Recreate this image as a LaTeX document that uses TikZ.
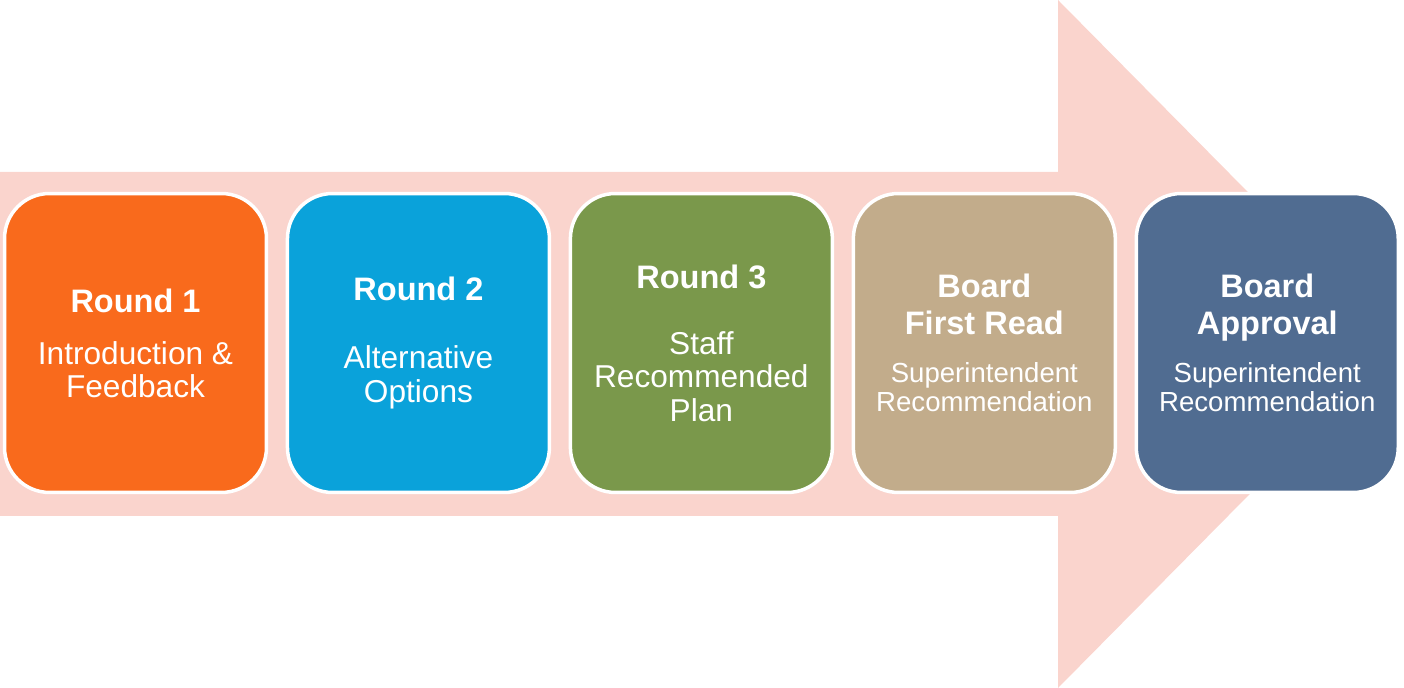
\documentclass[tikz,border=0pt]{standalone}
\usepackage{fontspec}
\setmainfont{Liberation Sans}
\usetikzlibrary{positioning}

\definecolor{arrowpink}{HTML}{FAD4CD}
\definecolor{roundorange}{HTML}{F96A1C}
\definecolor{roundblue}{HTML}{0AA2DA}
\definecolor{roundgreen}{HTML}{7A984B}
\definecolor{boardtan}{HTML}{C2AC8B}
\definecolor{boardslate}{HTML}{506C91}

\newcommand{\stagetitle}[1]{{\bfseries\fontsize{18.5}{20}\selectfont #1}}
\newcommand{\boardsub}[1]{{\fontsize{15.7}{20}\selectfont #1}}

\begin{document}
\begin{tikzpicture}[
    x=0.02cm, y=-0.02cm,
    node distance=0.35cm,
    stage/.style={rectangle, draw=white, line width=0.07cm, rounded corners=0.9cm, minimum width=5.24cm, minimum height=5.98cm, inner sep=0pt, align=center, text=white, font=\fontsize{18}{20}\selectfont}
]
\useasboundingbox (0,0) rectangle (1404,688);

% big background arrow
\fill[arrowpink] (0,172) -- (1058,172) -- (1058,0) -- (1398,344) -- (1058,688) -- (1058,516) -- (0,516) -- cycle;

% Rounds
\node[stage, fill=roundorange] (round1) at (135.5,343) {
    \stagetitle{Round 1}\\[9.6pt]
    Introduction \&\\[-1.2pt]
    Feedback
};
\node[stage, fill=roundblue, right=of round1] (round2) {
    \stagetitle{Round 2}\\[19pt]
    Alternative\\[-0.6pt]
    Options
};
\node[stage, fill=roundgreen, right=of round2] (round3) {
    \stagetitle{Round 3}\\[17.6pt]
    Staff\\[-1pt]
    Recommended\\[-1pt]
    Plan
};

% Board steps
\node[stage, fill=boardtan, right=of round3] (firstread) {
    \stagetitle{Board}\\[1pt]
    \stagetitle{First Read}\\[7.3pt]
    \boardsub{Superintendent}\\[-3.5pt]
    \boardsub{Recommendation}
};
\node[stage, fill=boardslate, right=of firstread] (approval) {
    \stagetitle{Board}\\[1pt]
    \stagetitle{Approval}\\[7.3pt]
    \boardsub{Superintendent}\\[-3.5pt]
    \boardsub{Recommendation}
};

\end{tikzpicture}
\end{document}
